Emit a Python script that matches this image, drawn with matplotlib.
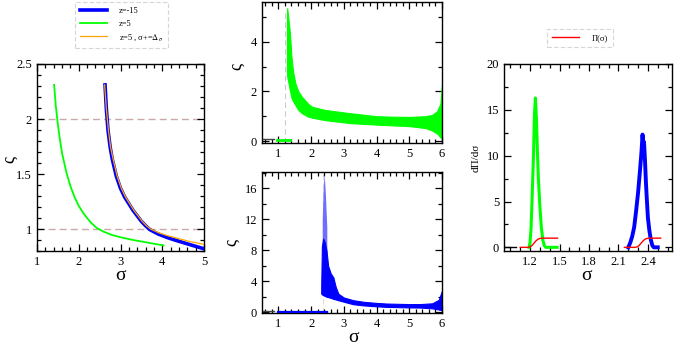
import matplotlib
matplotlib.use("Agg")
import matplotlib.pyplot as plt
from matplotlib.ticker import MultipleLocator
from matplotlib.lines import Line2D

plt.rcParams['font.family'] = ['Liberation Serif', 'DejaVu Serif']
plt.rcParams['mathtext.fontset'] = 'stix'

# ---------------- data ----------------
# left panel curves
green_x = [1.41, 1.45, 1.50, 1.55, 1.60, 1.70, 1.80, 1.90, 2.00, 2.10, 2.20, 2.30, 2.43, 2.60, 2.80, 3.00, 3.30, 3.60, 4.03]
green_y = [2.31, 2.12, 1.95, 1.81, 1.69, 1.52, 1.39, 1.29, 1.21, 1.15, 1.10, 1.055, 1.01, 0.975, 0.945, 0.925, 0.90, 0.88, 0.85]
blue_x = [2.63, 2.66, 2.70, 2.75, 2.80, 2.90, 3.00, 3.10, 3.20, 3.30, 3.40, 3.50, 3.60, 3.70, 3.90, 4.10, 4.30, 4.60, 5.00]
blue_y = [2.31, 2.10, 1.90, 1.75, 1.64, 1.48, 1.37, 1.29, 1.23, 1.17, 1.12, 1.07, 1.03, 0.995, 0.955, 0.925, 0.90, 0.865, 0.82]
orange_x = [2.62, 2.66, 2.71, 2.76, 2.82, 2.92, 3.02, 3.12, 3.22, 3.32, 3.42, 3.52, 3.62, 3.72, 3.92, 4.12, 4.32, 4.62, 5.00]
orange_y = [2.31, 2.10, 1.90, 1.75, 1.64, 1.48, 1.37, 1.29, 1.23, 1.17, 1.12, 1.07, 1.03, 1.0, 0.965, 0.94, 0.92, 0.89, 0.86]
ref_levels = [1.0, 2.0]

# middle top: green cloud envelopes
gc_x = [1.262, 1.27, 1.30, 1.35, 1.40, 1.45, 1.52, 1.61, 1.72, 1.91, 2.03, 2.43, 3.20, 4.00, 4.50, 5.00, 5.50, 5.70, 5.85, 5.95, 6.00]
gc_up = [5.0, 5.35, 5.0, 4.4, 3.4, 2.8, 2.32, 2.0, 1.78, 1.50, 1.38, 1.25, 1.12, 1.00, 0.98, 0.97, 1.00, 1.05, 1.20, 1.50, 2.30]
gc_lo = [2.8, 2.6, 2.4, 2.05, 1.75, 1.60, 1.45, 1.25, 1.12, 0.98, 0.94, 0.84, 0.72, 0.66, 0.63, 0.60, 0.52, 0.42, 0.30, 0.15, 0.10]
g_cut = 1.19
g_flat_x = [0.96, 1.37]
g_flat_y = [0.05, 0.05]

# middle bottom: blue cloud envelopes
bc_x = [2.31, 2.33, 2.37, 2.42, 2.47, 2.52, 2.60, 2.68, 2.75, 2.83, 3.00, 3.29, 3.60, 4.00, 4.31, 5.00, 5.33, 5.70, 5.90, 6.00]
bc_up = [3.5, 8.5, 9.5, 9.0, 8.0, 6.0, 5.0, 4.5, 3.3, 2.4, 1.9, 1.55, 1.35, 1.20, 1.12, 1.05, 1.05, 1.15, 1.6, 2.8]
bc_lo = [2.4, 2.3, 2.2, 2.1, 2.0, 1.95, 1.85, 1.72, 1.65, 1.55, 1.35, 1.03, 0.88, 0.76, 0.69, 0.62, 0.60, 0.50, 0.35, 0.26]
bs_x = [2.34, 2.37, 2.40, 2.44, 2.48]
bs_up = [12.0, 16.0, 17.9, 15.0, 11.0]
bs_lo = [8.5, 8.5, 8.5, 8.5, 7.5]
b_cut = 2.36
b_flat_x = [0.99, 2.48]
b_flat_y = [0.04, 0.04]
dark_x = [0.52, 0.86]
dark_y = [0.1, 0.1]

# right panel: distributions
gp_x = [1.19, 1.20, 1.21, 1.22, 1.235, 1.245, 1.255, 1.265, 1.275, 1.285, 1.30, 1.315, 1.33, 1.345, 1.36, 1.475]
gp_y = [0.0, 0.5, 2.0, 5.0, 10.0, 14.5, 16.3, 14.0, 10.5, 7.5, 4.5, 2.2, 0.8, 0.2, 0.0, 0.0]
bp_x = [2.20, 2.22, 2.24, 2.26, 2.28, 2.30, 2.32, 2.335, 2.345, 2.355, 2.36, 2.37, 2.38, 2.39, 2.40, 2.415, 2.43, 2.445, 2.46, 2.50]
bp_y = [0.0, 0.5, 1.2, 2.2, 4.0, 6.0, 8.5, 10.5, 12.3, 11.0, 11.5, 9.5, 7.0, 5.0, 3.2, 1.8, 0.8, 0.2, 0.0, 0.0]
pi1_x = [1.10, 1.18, 1.20, 1.22, 1.24, 1.26, 1.28, 1.30, 1.32, 1.48]
pi1_y = [0.0, 0.0, 0.05, 0.2, 0.45, 0.7, 0.88, 0.97, 1.0, 1.0]
pi2_x = [2.16, 2.27, 2.29, 2.31, 2.33, 2.35, 2.37, 2.39, 2.41, 2.53]
pi2_y = [0.0, 0.0, 0.05, 0.2, 0.45, 0.7, 0.88, 0.97, 1.0, 1.0]
base_x = [0.95, 1.06]
base_y = [0.0, 0.0]

GREEN = '#00ff00'
BLUE = '#0000ff'
ORANGE = '#ffa500'
RED = '#ff0000'
DASH = '#c9a9a9'

W, H = 674, 346
fig = plt.figure(figsize=(W / 100, H / 100), dpi=100)


def ax_px(x0, y0, x1, y1):
    return fig.add_axes([x0 / W, 1 - y1 / H, (x1 - x0) / W, (y1 - y0) / H])


def style(ax, xmaj, xmin, ymaj, ymin):
    ax.xaxis.set_major_locator(MultipleLocator(xmaj))
    ax.xaxis.set_minor_locator(MultipleLocator(xmin))
    ax.yaxis.set_major_locator(MultipleLocator(ymaj))
    ax.yaxis.set_minor_locator(MultipleLocator(ymin))
    ax.tick_params(which='both', direction='in', top=True, right=True,
                   labelsize=9, width=0.9, color='black')
    ax.tick_params(which='major', length=5)
    ax.tick_params(which='minor', length=2.6)
    for s in ax.spines.values():
        s.set_linewidth(1.0)


# ---------- left panel ----------
axL = ax_px(37, 64, 204, 251)
for lv in ref_levels:
    axL.axhline(lv, color=DASH, lw=1.0, ls=(0, (5, 3)), zorder=1)
axL.plot(green_x, green_y, color=GREEN, lw=1.3, zorder=3, solid_joinstyle='round')
axL.plot(blue_x, blue_y, color=BLUE, lw=2.6, zorder=3, solid_joinstyle='round')
axL.plot(orange_x, orange_y, color=ORANGE, lw=0.9, zorder=4, solid_joinstyle='round')
axL.set_xlim(1, 5)
axL.set_ylim(0.8, 2.5)
style(axL, 1, 0.2, 0.5, 0.1)
axL.set_yticks([1, 1.5, 2, 2.5])
axL.set_yticklabels(['1', '1.5', '2', '2.5'])

handles = [Line2D([], [], color=BLUE, lw=2.6),
           Line2D([], [], color=GREEN, lw=1.3),
           Line2D([], [], color=ORANGE, lw=0.9)]
labels = ['z=-15', 'z=5', r'z=5 , σ+=$\Delta_\sigma$']
legL = fig.legend(handles, labels, loc='upper left',
                  bbox_to_anchor=(75 / W, 1 - 2 / H), fontsize=6,
                  handlelength=3.2, handletextpad=1.5, labelspacing=0.55,
                  borderpad=0.6, borderaxespad=0, fancybox=False,
                  frameon=True)
legL.get_frame().set_linestyle((0, (4, 2)))
legL.get_frame().set_edgecolor('#cccccc')
legL.get_frame().set_linewidth(0.8)

# ---------- middle top ----------
axT = ax_px(262, 2, 442, 143)
axT.axvline(g_cut, color='#cccccc', lw=0.8, ls=(0, (5, 3)), ymax=0.92, zorder=1)
axT.fill_between(gc_x, gc_lo, gc_up, color=GREEN, lw=0.8, edgecolor=GREEN, zorder=2)
axT.plot(g_flat_x, g_flat_y, color=GREEN, lw=2.0, zorder=3)
axT.plot(dark_x, dark_y, color='#444444', lw=1.0, zorder=3)
axT.set_xlim(0.5, 6)
axT.set_ylim(-0.08, 5.6)
style(axT, 1, 0.2, 2, 1)

# ---------- middle bottom ----------
axB = ax_px(262, 172, 442, 313)
axB.axvline(b_cut, color='#dddddd', lw=0.8, ls=(0, (5, 3)), zorder=1)
axB.fill_between(bs_x, bs_lo, bs_up, color='#6f6fff', lw=0, zorder=2)
axB.fill_between(bc_x, bc_lo, bc_up, color=BLUE, lw=0.8, edgecolor=BLUE, zorder=2)
axB.plot(b_flat_x, b_flat_y, color=BLUE, lw=1.6, zorder=3)
axB.plot(dark_x, dark_y, color='#444444', lw=1.0, zorder=3)
axB.set_xlim(0.5, 6)
axB.set_ylim(-0.1, 18.1)
style(axB, 1, 0.2, 4, 2)

# ---------- right panel ----------
axR = ax_px(504, 64, 672, 251)
axR.plot(base_x, base_y, color='black', lw=1.0, zorder=2)
axR.plot(gp_x, gp_y, color=GREEN, lw=2.2, zorder=3)
axR.plot(bp_x, bp_y, color=BLUE, lw=2.8, zorder=3)
axR.plot(pi1_x, pi1_y, color=RED, lw=1.0, zorder=4)
axR.plot(pi2_x, pi2_y, color=RED, lw=1.0, zorder=4)
axR.set_xlim(0.935, 2.645)
axR.set_ylim(-0.4, 20)
style(axR, 0.3, 0.1, 5, 2.5)
axR.set_xticks([1.2, 1.5, 1.8, 2.1, 2.4])
axR.set_xticklabels(['1.2', '1.5', '1.8', '2.1', '2.4'])

legR = fig.legend([Line2D([], [], color=RED, lw=1.0)], ['Π(σ)'],
                  loc='upper left', bbox_to_anchor=(547 / W, 1 - 29 / H),
                  fontsize=6, handlelength=3.2, handletextpad=1.6,
                  borderpad=0.6, borderaxespad=0, fancybox=False, frameon=True)
legR.get_frame().set_linestyle((0, (4, 2)))
legR.get_frame().set_edgecolor('#cccccc')
legR.get_frame().set_linewidth(0.8)

# ---------- axis labels ----------
def ftxt(x, y, s, size, rot=0):
    fig.text(x / W, 1 - y / H, s, fontsize=size, ha='center', va='center', rotation=rot)

ftxt(10, 159, 'ς', 13, 90)
ftxt(121, 276, 'σ', 14)
ftxt(237, 67, 'ς', 13, 90)
ftxt(232, 242, 'ς', 13, 90)
ftxt(353, 337, 'σ', 14)
ftxt(587, 276, 'σ', 14)
ftxt(476, 158, 'dΠ/dσ', 8, 90)

fig.savefig('out.png', dpi=100)
